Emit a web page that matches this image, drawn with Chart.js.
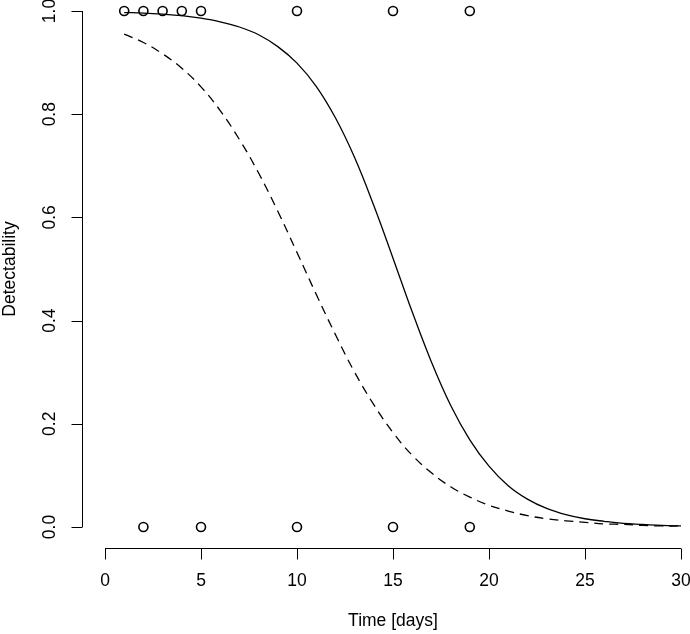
<!DOCTYPE html>
<html>
<head>
<meta charset="utf-8">
<script src="https://cdn.jsdelivr.net/npm/chart.js@4"></script>
<style>
  body { margin: 0; background: #fff; }
  canvas { display: block; }
</style>
</head>
<body>
<canvas id="chart" width="690" height="634"></canvas>
<script>
// Time axis of the fitted curves (days)
const timeDays = [1, 2, 3, 4, 5, 6, 7, 8, 9, 10, 11, 12, 13, 14, 15,
                  16, 17, 18, 19, 20, 21, 22, 23, 24, 25, 26, 27, 28, 29, 30];
// solid curve
const solidCurve = [0.997, 0.996, 0.994, 0.991, 0.986, 0.979, 0.969, 0.954, 0.931, 0.899,
                    0.854, 0.793, 0.716, 0.623, 0.521, 0.417, 0.320, 0.236, 0.169, 0.118,
                    0.080, 0.054, 0.036, 0.024, 0.016, 0.011, 0.007, 0.005, 0.003, 0.002];
// dashed curve
const dashedCurve = [0.955, 0.939, 0.917, 0.889, 0.853, 0.807, 0.751, 0.686, 0.612, 0.532,
                     0.451, 0.373, 0.300, 0.237, 0.183, 0.139, 0.105, 0.078, 0.058, 0.042,
                     0.031, 0.022, 0.016, 0.012, 0.009, 0.006, 0.005, 0.003, 0.002, 0.002];
// observations
const detectedDays = [1, 2, 3, 4, 5, 10, 15, 19];
const missedDays = [2, 5, 10, 15, 19];

const xTicks = [0, 5, 10, 15, 20, 25, 30];
const yTicks = [0, 0.2, 0.4, 0.6, 0.8, 1.0];
const yTickLabels = ['0.0', '0.2', '0.4', '0.6', '0.8', '1.0'];

const FONT = '17.5px "Liberation Sans", Arial, sans-serif';

// R style axes: drawn off the plot region, only over the tick range
const rAxes = {
    id: 'rAxes',
    afterDraw(chart) {
        const ctx = chart.ctx;
        const xs = chart.scales.x;
        const ys = chart.scales.y;
        const area = chart.chartArea;
        ctx.save();
        ctx.strokeStyle = '#000';
        ctx.fillStyle = '#000';
        ctx.lineWidth = 1;
        ctx.font = FONT;

        // x axis
        const axY = Math.round(area.bottom + 21) + 0.5;
        const x0 = xs.getPixelForValue(xTicks[0]);
        const x1 = xs.getPixelForValue(xTicks[xTicks.length - 1]);
        ctx.beginPath();
        ctx.moveTo(x0, axY);
        ctx.lineTo(x1, axY);
        xTicks.forEach(t => {
            const px = Math.round(xs.getPixelForValue(t)) + 0.5;
            ctx.moveTo(px, axY);
            ctx.lineTo(px, axY + 11);
        });
        ctx.stroke();
        ctx.textAlign = 'center';
        ctx.textBaseline = 'middle';
        xTicks.forEach(t => {
            ctx.fillText(String(t), xs.getPixelForValue(t), axY + 33);
        });
        ctx.fillText('Time [days]', (area.left + area.right) / 2, axY + 73);

        // y axis
        const axX = Math.round(area.left - 23) + 0.5;
        const y0 = ys.getPixelForValue(yTicks[0]);
        const y1 = ys.getPixelForValue(yTicks[yTicks.length - 1]);
        ctx.beginPath();
        ctx.moveTo(axX, y0);
        ctx.lineTo(axX, y1);
        yTicks.forEach(t => {
            const py = Math.round(ys.getPixelForValue(t)) + 0.5;
            ctx.moveTo(axX, py);
            ctx.lineTo(axX - 11, py);
        });
        ctx.stroke();
        yTicks.forEach((t, i) => {
            ctx.save();
            ctx.translate(axX - 32, ys.getPixelForValue(t));
            ctx.rotate(-Math.PI / 2);
            ctx.fillText(yTickLabels[i], 0, 0);
            ctx.restore();
        });
        ctx.save();
        ctx.translate(10, (area.top + area.bottom) / 2);
        ctx.rotate(-Math.PI / 2);
        ctx.fillText('Detectability', 0, 0);
        ctx.restore();

        ctx.restore();
    }
};

const toPoints = (xsArr, ysArr) => xsArr.map((x, i) => ({ x: x, y: ysArr[i] }));

new Chart(document.getElementById('chart'), {
    type: 'scatter',
    data: {
        datasets: [
            {
                label: 'solid',
                data: toPoints(timeDays, solidCurve),
                showLine: true,
                borderColor: '#000',
                borderWidth: 1.3,
                pointRadius: 0,
                tension: 0.4,
                clip: false
            },
            {
                label: 'dashed',
                data: toPoints(timeDays, dashedCurve),
                showLine: true,
                borderColor: '#000',
                borderWidth: 1.3,
                borderDash: [9, 6],
                pointRadius: 0,
                tension: 0.4,
                clip: false
            },
            {
                label: 'detected',
                data: detectedDays.map(d => ({ x: d, y: 1 })),
                pointRadius: 4.5,
                pointBorderWidth: 1.6,
                pointBorderColor: '#000',
                pointBackgroundColor: 'rgba(0,0,0,0)',
                clip: false
            },
            {
                label: 'not detected',
                data: missedDays.map(d => ({ x: d, y: 0 })),
                pointRadius: 4.5,
                pointBorderWidth: 1.6,
                pointBorderColor: '#000',
                pointBackgroundColor: 'rgba(0,0,0,0)',
                clip: false
            }
        ]
    },
    options: {
        responsive: false,
        animation: false,
        layout: { padding: { left: 105, right: 9, top: 11, bottom: 107 } },
        plugins: {
            legend: { display: false },
            tooltip: { enabled: false }
        },
        scales: {
            x: { type: 'linear', min: 0, max: 30, display: false },
            y: { type: 'linear', min: 0, max: 1, display: false }
        }
    },
    plugins: [rAxes]
});
</script>
</body>
</html>
